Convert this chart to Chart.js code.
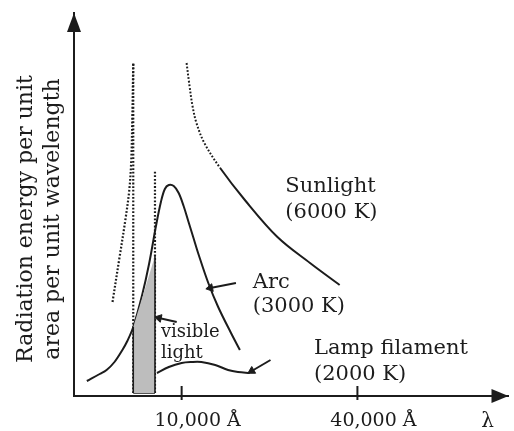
<!DOCTYPE html>
<html>
<head>
<meta charset="utf-8">
<script src="https://cdn.jsdelivr.net/npm/chart.js@4.4.1/dist/chart.umd.min.js"></script>
<style>
  html, body { margin:0; padding:0; background:#fff; }
  #wrap { width:514px; height:431px; position:relative; }
</style>
</head>
<body>
<div id="wrap"><canvas id="c"></canvas></div>
<script>
/* Black-body spectra sketch (schematic units: x ~ wavelength, y ~ energy). */
const INK = "#1c1c1c", SHADE = "#bdbdbd";
const FONT = "'DejaVu Serif', serif";
const DOTS = [1.8, 1.8];

const X_MAX = 440, Y_MAX = 383;
const TICK_POS = [109, 287];
const TICK_LABELS = ["10,000 Å", "40,000 Å"];

// sunlight (6000 K): dotted rising part; falling part dotted for the first 5 segments
const SUN_RISE = [[39,94],[46,138],[52,176],[56,206],[58,236],[59,276],[60,333]];
const SUN_FALL = [[114,333],[117,310],[120,290],[124,273],[132,253],[148,228],[173,196],[206,159],[239,133],[269,111]];
const SUN_DOTTED_SEGS = 5;
// arc (3000 K)
const ARC = [[13,15],[26,22],[33,26],[41,34],[49,46],[54,55],[60,69],[69,101],[76,132],
  [83,170],[88,194],[92,207],[96,211],[101,210],[106,203],[111,190],[116,174],[121,158],
  [126,142],[136,113],[146,89],[159,63],[168,46]];
// lamp filament (2000 K)
const LAMP = [[84,23],[96,29],[109,33],[119,34],[129,34],[143,31],[156,26],[166,24],[178,23]];
// visible band
const VIS_BAND = [[60,3],[60,69],[82,140],[82,3]];
const VIS_BASE = [[60,3],[82,3]];
const VIS_LEFT = [[60,3],[60,333]];
const VIS_RIGHT = [[82,3],[82,226]];
// pointer arrows (tail, head)
const ARROW_ARC = [[164,113],[138,108]];
const ARROW_VIS = [[104,74],[86,78]];
const ARROW_LAMP = [[199,36],[180,25]];

const LABELS = [
  ["Sunlight", 214, 204], ["(6000 K)", 214, 178],
  ["Arc", 181, 108], ["(3000 K)", 181, 84],
  ["Lamp filament", 243, 42], ["(2000 K)", 243, 16],
];
const SMALL_LABELS = [["visible", 88, 59], ["light", 88, 38]];
const Y_TITLE = ["Radiation energy per unit", "area per unit wavelength"];

const pts = a => a.map(([x,y]) => ({x, y}));

function curve(data, dotted){
  return { data: pts(data), showLine:true, borderColor:INK, borderWidth: dotted ? 2.2 : 2,
    borderDash: dotted ? DOTS : [], borderCapStyle:"butt", pointRadius:0, tension:0.35, fill:false };
}
function arrow(data){
  const [a, b] = data;
  const ang = Math.atan2(b[0]-a[0], b[1]-a[1]) * 180 / Math.PI; // 1 unit = 1 px on both axes
  return { data: pts(data), showLine:true, borderColor:INK, backgroundColor:INK, borderWidth:2,
    pointStyle:"triangle", pointRadius:[0,4.5], pointBorderWidth:1, pointHoverRadius:0, tension:0,
    rotation: ang };
}

const decor = {
  id: "decor",
  afterDraw(chart){
    const g = chart.ctx, sx = chart.scales.x, sy = chart.scales.y, a = chart.chartArea;
    g.save();
    g.fillStyle = INK; g.strokeStyle = INK;
    // axis arrowheads
    g.beginPath(); g.moveTo(a.left, a.top); g.lineTo(a.left-7, a.top+19); g.lineTo(a.left+7, a.top+19); g.closePath(); g.fill();
    g.beginPath(); g.moveTo(a.right, a.bottom); g.lineTo(a.right-17, a.bottom-7); g.lineTo(a.right-17, a.bottom+7); g.closePath(); g.fill();
    // tick marks crossing the axis
    g.lineWidth = 2;
    TICK_POS.forEach(v => {
      const px = sx.getPixelForValue(v);
      g.beginPath(); g.moveTo(px, a.bottom-10); g.lineTo(px, a.bottom+4); g.stroke();
    });
    // lambda
    g.font = "20px " + FONT; g.textAlign = "center"; g.textBaseline = "alphabetic";
    g.fillText("λ", a.right-21, a.bottom+31);
    // curve labels
    g.font = "21px " + FONT; g.textAlign = "left";
    LABELS.forEach(([t,x,y]) => g.fillText(t, sx.getPixelForValue(x), sy.getPixelForValue(y)));
    g.font = "18px " + FONT;
    SMALL_LABELS.forEach(([t,x,y]) => g.fillText(t, sx.getPixelForValue(x), sy.getPixelForValue(y)));
    // y title
    g.font = "22px " + FONT; g.textAlign = "center";
    g.translate(0, 219); g.rotate(-Math.PI/2);
    g.fillText(Y_TITLE[0], 0, 32);
    g.fillText(Y_TITLE[1], 0, 59);
    g.restore();
  }
};

const sunFall = curve(SUN_FALL, false);
sunFall.segment = { borderDash: ctx => ctx.p0DataIndex < SUN_DOTTED_SEGS ? DOTS : [] };

new Chart(document.getElementById("c"), {
  type: "scatter",
  data: { datasets: [
    { data: pts(VIS_BAND), showLine:true, borderColor:INK, borderWidth:1.6, backgroundColor:SHADE,
      fill:{ value:3 }, pointRadius:0, tension:0,
      segment:{ borderColor: ctx => ctx.p0DataIndex === 1 ? "rgba(0,0,0,0)" : INK } },
    { data: pts(VIS_BASE), showLine:true, borderColor:INK, borderWidth:1.6, pointRadius:0 },
    curve(VIS_LEFT, true), curve(VIS_RIGHT, true),
    curve(SUN_RISE, true), sunFall,
    curve(ARC, false), curve(LAMP, false),
    arrow(ARROW_ARC), arrow(ARROW_VIS), arrow(ARROW_LAMP),
  ] },
  options: {
    responsive:true, maintainAspectRatio:false, animation:false,
    layout:{ padding:{ top:13, right:0, left:0, bottom:0 } },
    plugins:{ legend:{ display:false }, tooltip:{ enabled:false } },
    events: [],
    scales:{
      x:{ type:"linear", min:0, max:X_MAX,
        grid:{ display:false }, border:{ display:true, color:INK, width:2 },
        afterBuildTicks: s => { s.ticks = TICK_POS.map(v => ({ value:v })); },
        afterFit: s => { s.height = 35; },
        ticks:{ color:INK, font:{ family:FONT, size:19 }, padding:6, labelOffset:16, maxRotation:0,
          callback: (v) => TICK_LABELS[TICK_POS.indexOf(v)] } },
      y:{ type:"linear", min:0, max:Y_MAX,
        grid:{ display:false }, border:{ display:true, color:INK, width:2 },
        afterFit: s => { s.width = 74; },
        ticks:{ display:false } }
    }
  },
  plugins:[decor]
});
</script>
</body>
</html>
